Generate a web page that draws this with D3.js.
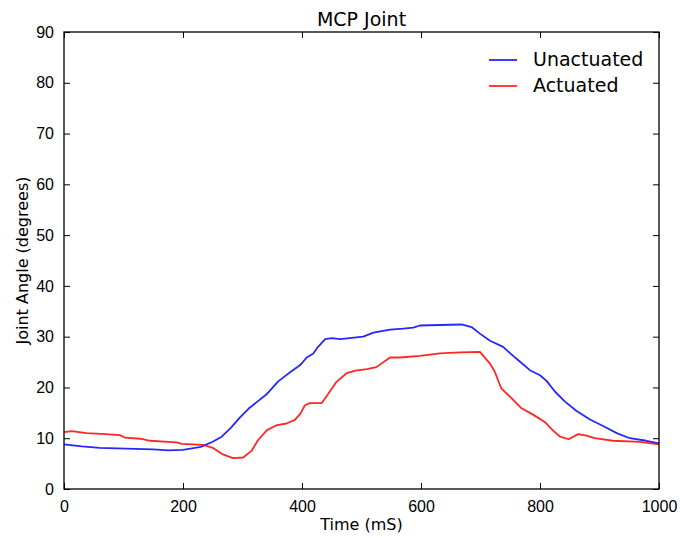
<!DOCTYPE html>
<html>
<head>
<meta charset="utf-8">
<script src="https://cdn.jsdelivr.net/npm/d3@7"></script>
<style>
  body { margin: 0; background: #fff; }
  svg { display: block; font-family: "DejaVu Sans", sans-serif; }
  .tick text { fill: #000; }
</style>
</head>
<body>
<svg id="chart" width="680" height="538"></svg>
<script>
// Unactuated (blue) — time in mS, angle in degrees
const unactTime  = [0, 30, 60, 90, 120, 150, 175, 200, 215, 230, 250, 265, 280, 295, 310, 325, 340, 360, 380, 397, 408, 419, 427, 439, 450, 464, 480, 503, 520, 548, 570, 587, 598, 632, 668, 685, 699, 716, 738, 750, 766, 783, 800, 811, 825, 842, 861, 884, 906, 929, 951, 979, 1000];
const unactAngle = [8.8, 8.4, 8.1, 8.0, 7.9, 7.8, 7.6, 7.7, 8.0, 8.3, 9.3, 10.3, 12.0, 14.0, 15.8, 17.2, 18.6, 21.2, 23.0, 24.4, 25.9, 26.7, 28.0, 29.5, 29.7, 29.5, 29.7, 30.0, 30.8, 31.4, 31.6, 31.8, 32.2, 32.3, 32.4, 31.9, 30.6, 29.2, 28.0, 26.7, 25.1, 23.4, 22.4, 21.3, 19.2, 17.2, 15.4, 13.7, 12.4, 11.0, 10.0, 9.5, 9.0];

// Actuated (red)
const actTime  = [0, 13, 38, 70, 94, 103, 128, 145, 175, 189, 198, 234, 250, 267, 284, 301, 315, 326, 341, 358, 374, 388, 397, 405, 413, 433, 441, 458, 475, 490, 509, 525, 548, 565, 598, 632, 665, 699, 716, 724, 735, 752, 769, 789, 808, 822, 834, 848, 864, 878, 892, 923, 968, 1000];
const actAngle = [11.2, 11.4, 11.0, 10.8, 10.6, 10.1, 9.9, 9.5, 9.3, 9.2, 8.9, 8.7, 8.1, 6.8, 6.1, 6.2, 7.5, 9.6, 11.6, 12.6, 12.9, 13.6, 14.8, 16.5, 16.9, 16.9, 18.2, 21.1, 22.8, 23.3, 23.6, 24.0, 25.9, 25.9, 26.2, 26.7, 26.9, 27.0, 24.7, 23.1, 19.8, 17.9, 15.9, 14.6, 13.2, 11.5, 10.3, 9.8, 10.8, 10.5, 10.0, 9.5, 9.3, 8.8];

const xTicks = [0, 200, 400, 600, 800, 1000];
const yTicks = [0, 10, 20, 30, 40, 50, 60, 70, 80, 90];

const series = [
  { name: 'Unactuated', color: '#0000ff', t: unactTime, v: unactAngle },
  { name: 'Actuated',   color: '#ff0000', t: actTime,   v: actAngle }
];

const margin = { top: 32, right: 21, bottom: 49, left: 64 };
const W = 680, H = 538;
const w = W - margin.left - margin.right;
const h = H - margin.top - margin.bottom;

const svg = d3.select('#chart');
const g = svg.append('g').attr('transform', `translate(${margin.left},${margin.top})`);

const x = d3.scaleLinear().domain([0, 1000]).range([0, w]);
const y = d3.scaleLinear().domain([0, 90]).range([h, 0]);

// lines
const line = d3.line().x(d => x(d[0])).y(d => y(d[1]));
series.forEach(s => {
  g.append('path')
    .datum(d3.zip(s.t, s.v))
    .attr('fill', 'none')
    .attr('stroke', s.color)
    .attr('stroke-opacity', 0.85)
    .attr('stroke-width', 1.8)
    .attr('stroke-linejoin', 'round')
    .attr('d', line);
});

// axes, ticks pointing inward (classic matplotlib)
const styleAxis = sel => {
  sel.select('.domain').remove();
  sel.selectAll('.tick line').attr('stroke', '#000').attr('stroke-width', 1);
  sel.selectAll('.tick text').attr('font-size', '16px');
};

g.append('g').attr('transform', `translate(0,${h})`)
  .call(d3.axisBottom(x).tickValues(xTicks).tickSize(-6).tickPadding(12).tickFormat(d3.format('d')))
  .call(styleAxis);
g.append('g')
  .call(d3.axisTop(x).tickValues(xTicks).tickSize(-6).tickFormat(''))
  .call(styleAxis);
g.append('g')
  .call(d3.axisLeft(y).tickValues(yTicks).tickSize(-6).tickPadding(10).tickFormat(d3.format('d')))
  .call(styleAxis);
g.append('g').attr('transform', `translate(${w},0)`)
  .call(d3.axisRight(y).tickValues(yTicks).tickSize(-6).tickFormat(''))
  .call(styleAxis);

// frame
g.append('rect')
  .attr('width', w).attr('height', h)
  .attr('fill', 'none').attr('stroke', '#000').attr('stroke-width', 1.3);

// title and labels
svg.append('text')
  .attr('x', margin.left + w / 2).attr('y', 26)
  .attr('text-anchor', 'middle').attr('font-size', '19px')
  .text('MCP Joint');
svg.append('text')
  .attr('x', margin.left + w / 2).attr('y', 530)
  .attr('text-anchor', 'middle').attr('font-size', '16px')
  .text('Time (mS)');
svg.append('text')
  .attr('transform', `translate(28,${margin.top + h / 2}) rotate(-90)`)
  .attr('text-anchor', 'middle').attr('font-size', '16px')
  .text('Joint Angle (degrees)');

// legend
const legend = svg.append('g').attr('transform', 'translate(489,60)');
series.forEach((s, i) => {
  const row = legend.append('g').attr('transform', `translate(0,${i * 26})`);
  row.append('line').attr('x1', 0).attr('x2', 28).attr('stroke', s.color).attr('stroke-opacity', 0.85).attr('stroke-width', 1.8);
  row.append('text').attr('x', 44).attr('y', 6).attr('font-size', '19px').text(s.name);
});
</script>
</body>
</html>
